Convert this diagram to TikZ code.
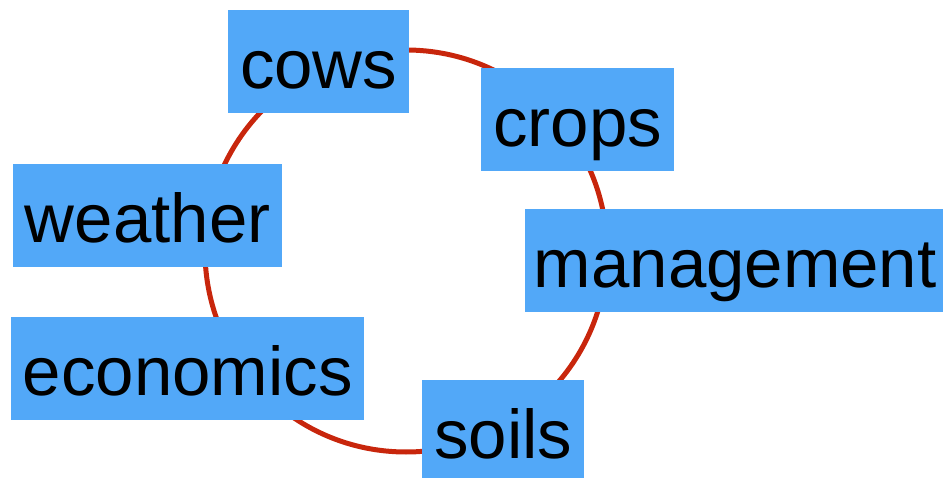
\documentclass[tikz,border=0pt]{standalone}
\usepackage{fontspec}
\setmainfont{Liberation Sans}
\definecolor{boxblue}{RGB}{82,168,248}
\definecolor{ringred}{RGB}{200,38,12}
\begin{document}
\begin{tikzpicture}[x=1pt,y=-1pt,
  topic/.style={fill=boxblue, inner xsep=0pt, inner ysep=0pt, anchor=north west,
    text height=78pt, text depth=25pt, font=\fontsize{69}{80}\selectfont, text=black}]
\useasboundingbox (0,0) rectangle (943,478);
\draw[ringred, line width=5pt] (406,251) circle[radius=201];
\node[topic, minimum width=181pt] (cows) at (228,10) {cows};
\node[topic, minimum width=193pt] (crops) at (481,68) {crops};
\node[topic, minimum width=269pt] (weather) at (13,164) {weather};
\node[topic, minimum width=420pt] (management) at (525,209) {management};
\node[topic, minimum width=353pt] (economics) at (11,317) {economics};
\node[topic, minimum width=162pt] (soils) at (422,380) {soils};
\end{tikzpicture}
\end{document}
